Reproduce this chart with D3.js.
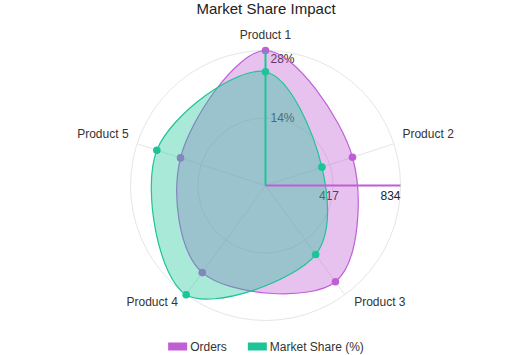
<!DOCTYPE html>
<html>
<head>
<meta charset="utf-8">
<script src="https://cdn.jsdelivr.net/npm/d3@7"></script>
<style>
  body { margin: 0; background: #fff; }
  svg { font-family: "Liberation Sans", Arial, sans-serif; }
</style>
</head>
<body>
<svg id="drawing_region"></svg>
<script>
// data
const products = ["Product 1", "Product 2", "Product 3", "Product 4", "Product 5"];
const orders = [834, 565, 735, 665, 552];
const marketShare = [23.6, 12.3, 17.7, 28.0, 23.7];
const orderTicks = [417, 834];
const shareTicks = [14, 28];
const seriesNames = ["Orders", "Market Share (%)"];
const seriesColors = ["#c05fd5", "#1cc497"];

class DualRadar {

    constructor( config ) {
        this.config = {
            parent: config.parent,
            width: config.width || 532,
            height: config.height || 355,
            cx: config.cx,
            cy: config.cy,
            radius: config.radius,
            title: config.title || ""
        };
        this.init();
    }

    init() {
        let self = this;

        self.svg = d3.select( self.config.parent )
            .attr('width', self.config.width)
            .attr('height', self.config.height);

        self.svg.append('text')
            .attr('x', self.config.width / 2)
            .attr('y', 14)
            .attr('text-anchor', "middle")
            .attr('fill', "#222")
            .attr('font-size', "15px")
            .text(self.config.title);

        self.chart = self.svg.append('g')
            .attr('transform', `translate(${self.config.cx}, ${self.config.cy})`);

        self.rOrders = d3.scaleLinear()
            .domain( [0, d3.max(orderTicks)] )
            .range( [0, self.config.radius] );

        self.rShare = d3.scaleLinear()
            .domain( [0, d3.max(shareTicks)] )
            .range( [0, self.config.radius] );

        self.angle = d3.scalePoint()
            .domain( products )
            .range( [0, 2 * Math.PI * (products.length - 1) / products.length] );
    }

    render() {
        let self = this;
        const R = self.config.radius;
        const g = self.chart;
        const pt = (a, r) => [ Math.sin(a) * r, -Math.cos(a) * r ];

        // grid circles + spokes
        g.selectAll("circle.grid")
            .data(orderTicks)
            .join("circle")
            .attr("class", "grid")
            .attr("r", d => self.rOrders(d))
            .attr("fill", "none")
            .attr("stroke", "#e6e6e6");

        g.selectAll("line.spoke")
            .data(products)
            .join("line")
            .attr("class", "spoke")
            .attr("x2", d => pt(self.angle(d), R)[0])
            .attr("y2", d => pt(self.angle(d), R)[1])
            .attr("stroke", "#e6e6e6");

        // category names
        g.selectAll("text.name")
            .data(products)
            .join("text")
            .attr("class", "name")
            .each(function(d) {
                const a = self.angle(d);
                const p = pt(a, R + 9);
                const s = Math.sin(a), c = Math.cos(a);
                const el = d3.select(this);
                let x = p[0], y = p[1];
                let anchor = Math.abs(s) < 0.1 ? "middle" : (s > 0 ? "start" : "end");
                if ( c > 0 ) {
                    y = p[1] - 3;
                } else {
                    x += s > 0 ? 4 : -3;
                    y = p[1] + 4;
                }
                el.attr("x", x).attr("y", y).attr("text-anchor", anchor);
            })
            .attr("font-size", "12px")
            .attr("fill", "#333")
            .text(d => d);

        // radial axis labels (under the areas)
        g.selectAll("text.otick")
            .data(orderTicks)
            .join("text")
            .attr("class", "otick")
            .attr("x", d => Math.min(self.rOrders(d) + 6, R))
            .attr("y", 14)
            .attr("text-anchor", "end")
            .attr("font-size", "12px")
            .attr("fill", "#222")
            .text(d => d);

        g.selectAll("text.stick")
            .data(shareTicks)
            .join("text")
            .attr("class", "stick")
            .attr("x", 5)
            .attr("y", d => Math.max(-self.rShare(d), -R + 8) + 4)
            .attr("font-size", "12px")
            .attr("fill", "#222")
            .text(d => d + "%");

        // areas
        const series = [
            { values: orders, scale: self.rOrders, color: seriesColors[0] },
            { values: marketShare, scale: self.rShare, color: seriesColors[1] }
        ];

        series.forEach( s => {
            const line = d3.lineRadial()
                .angle((d, i) => self.angle(products[i]))
                .radius(d => s.scale(d))
                .curve(d3.curveCatmullRomClosed.alpha(0.5));

            const sg = g.append("g");
            sg.append("path")
                .attr("d", line(s.values))
                .attr("fill", s.color)
                .attr("fill-opacity", 0.38)
                .attr("stroke", s.color)
                .attr("stroke-width", 1.2);

            sg.selectAll("circle")
                .data(s.values)
                .join("circle")
                .attr("cx", (d, i) => pt(self.angle(products[i]), s.scale(d))[0])
                .attr("cy", (d, i) => pt(self.angle(products[i]), s.scale(d))[1])
                .attr("r", 3.8)
                .attr("fill", s.color);
        });

        // axis lines on top
        g.append("line")
            .attr("x2", R)
            .attr("stroke", seriesColors[0])
            .attr("stroke-width", 2);

        g.append("line")
            .attr("y2", -R)
            .attr("stroke", seriesColors[1])
            .attr("stroke-width", 2);

        // legend
        const legend = self.svg.append('g');
        let x = 0;
        seriesNames.forEach( (name, i) => {
            const item = legend.append('g').attr('transform', `translate(${x}, 0)`);
            item.append('rect')
                .attr('y', -4)
                .attr('width', 19)
                .attr('height', 8)
                .attr('fill', seriesColors[i]);
            const t = item.append('text')
                .attr('x', 22)
                .attr('y', 4)
                .attr('font-size', "12px")
                .attr('fill', "#333")
                .text(name);
            x += 22 + t.node().getComputedTextLength() + 21;
        });
        const lw = x - 21;
        legend.attr('transform', `translate(${(self.config.width - lw) / 2}, 346.5)`);
    }
}

const radar = new DualRadar({
    parent: '#drawing_region',
    width: 532,
    height: 355,
    cx: 265.5,
    cy: 185.5,
    radius: 135,
    title: "Market Share Impact"
});
radar.render();
</script>
</body>
</html>
